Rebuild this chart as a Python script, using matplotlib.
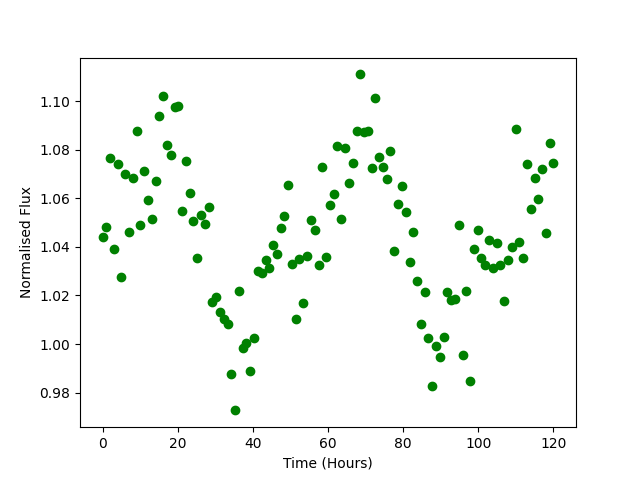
import numpy as np
import matplotlib
matplotlib.use('Agg')
import matplotlib.pyplot as plt

# Time stamps (hours), evenly sampled from 0 to 120
time_hours = [
    0.0, 1.0, 2.0, 3.0, 4.0, 5.0, 6.1, 7.1, 8.1, 9.1,
    10.1, 11.1, 12.1, 13.1, 14.1, 15.1, 16.1, 17.1, 18.2, 19.2,
    20.2, 21.2, 22.2, 23.2, 24.2, 25.2, 26.2, 27.2, 28.2, 29.2,
    30.3, 31.3, 32.3, 33.3, 34.3, 35.3, 36.3, 37.3, 38.3, 39.3,
    40.3, 41.3, 42.4, 43.4, 44.4, 45.4, 46.4, 47.4, 48.4, 49.4,
    50.4, 51.4, 52.4, 53.4, 54.5, 55.5, 56.5, 57.5, 58.5, 59.5,
    60.5, 61.5, 62.5, 63.5, 64.5, 65.5, 66.6, 67.6, 68.6, 69.6,
    70.6, 71.6, 72.6, 73.6, 74.6, 75.6, 76.6, 77.6, 78.7, 79.7,
    80.7, 81.7, 82.7, 83.7, 84.7, 85.7, 86.7, 87.7, 88.7, 89.7,
    90.8, 91.8, 92.8, 93.8, 94.8, 95.8, 96.8, 97.8, 98.8, 99.8,
    100.8, 101.8, 102.9, 103.9, 104.9, 105.9, 106.9, 107.9, 108.9, 109.9,
    110.9, 111.9, 112.9, 113.9, 115.0, 116.0, 117.0, 118.0, 119.0, 120.0,
]

# Normalised flux
flux = [
    1.0439, 1.0480, 1.0764, 1.0390, 1.0740, 1.0275, 1.0698, 1.0460, 1.0682, 1.0875,
    1.0489, 1.0711, 1.0591, 1.0513, 1.0670, 1.0937, 1.1023, 1.0818, 1.0777, 1.0974,
    1.0978, 1.0546, 1.0752, 1.0620, 1.0505, 1.0353, 1.0530, 1.0493, 1.0563, 1.0172,
    1.0193, 1.0130, 1.0102, 1.0081, 0.9875, 0.9727, 1.0217, 0.9982, 1.0004, 0.9888,
    1.0024, 1.0300, 1.0293, 1.0346, 1.0312, 1.0406, 1.0369, 1.0476, 1.0527, 1.0653,
    1.0328, 1.0102, 1.0349, 1.0168, 1.0361, 1.0509, 1.0468, 1.0324, 1.0727, 1.0360,
    1.0571, 1.0616, 1.0815, 1.0513, 1.0809, 1.0665, 1.0744, 1.0879, 1.1110, 1.0871,
    1.0879, 1.0723, 1.1011, 1.0768, 1.0727, 1.0678, 1.0793, 1.0383, 1.0576, 1.0649,
    1.0543, 1.0336, 1.0460, 1.0258, 1.0081, 1.0213, 1.0024, 0.9826, 0.9991, 0.9945,
    1.0028, 1.0213, 1.0181, 1.0184, 1.0489, 0.9954, 1.0217, 0.9847, 1.0390, 1.0468,
    1.0353, 1.0324, 1.0427, 1.0312, 1.0414, 1.0324, 1.0176, 1.0344, 1.0398, 1.0884,
    1.0419, 1.0353, 1.0740, 1.0558, 1.0682, 1.0596, 1.0719, 1.0456, 1.0826, 1.0744,
]

fig, ax = plt.subplots(figsize=(6.4, 4.8), dpi=100)
ax.scatter(time_hours, flux, color='green')
ax.set_xlabel('Time (Hours)')
ax.set_ylabel('Normalised Flux')

fig.savefig('out.png')
